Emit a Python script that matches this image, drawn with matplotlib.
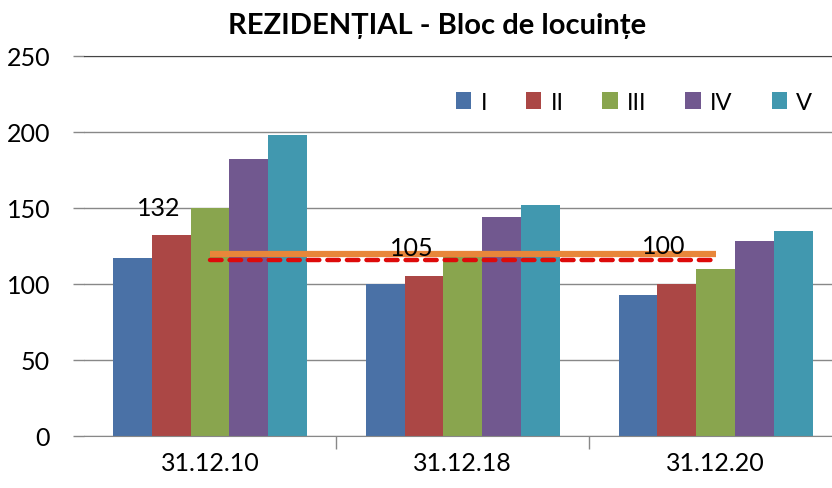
import matplotlib
matplotlib.use("Agg")
import matplotlib.pyplot as plt
import numpy as np

categories = ["31.12.10", "31.12.18", "31.12.20"]
series_names = ["I", "II", "III", "IV", "V"]
values_I = [117, 100, 93]
values_II = [132, 105, 100]
values_III = [150, 122, 110]
values_IV = [182, 144, 128]
values_V = [198, 152, 135]
line_orange = [120, 120, 120]
line_red = [116, 116, 116]
label_texts = ["132", "105", "100"]
label_y = [150, 124, 125.5]
yticks = [0, 50, 100, 150, 200, 250]
title = "REZIDENȚIAL - Bloc de locuințe"

colors = ["#4a71a6", "#ab4745", "#89a54e", "#71588f", "#4198af"]

plt.rcParams['font.family'] = ['Lato', 'DejaVu Sans']

fig = plt.figure(figsize=(8.32, 4.89), dpi=100)
ax = fig.add_axes([83.5 / 832, (489 - 437) / 489, (842 - 83.5) / 832, (437 - 57) / 489])

x = np.arange(len(categories))
bw = 0.1534
all_vals = [values_I, values_II, values_III, values_IV, values_V]
for i, (vals, c, name) in enumerate(zip(all_vals, colors, series_names)):
    ax.bar(x + (i - 2) * bw, vals, width=bw, color=c, label=name, zorder=2)

ax.plot(x, line_orange, color="#e8863a", lw=4.5, zorder=3, solid_capstyle="butt")
ax.plot(x, line_red, color="#dd0a0a", lw=3.2, zorder=4, dashes=(2.6, 1.8), dash_capstyle="round")

for xi, t, yv in zip(x, label_texts, label_y):
    ax.text(xi - bw * 1.0 - 0.05, yv, t, ha="center", va="center", fontsize=18, color="black", zorder=5)

ax.set_xlim(-0.5, 2.5)
ax.set_ylim(0, 250)
ax.set_yticks(yticks)
ax.set_xticks(x)
ax.set_xticklabels(categories)
ax.set_xticks([0.5, 1.5], minor=True)
ax.tick_params(axis="x", which="major", length=0, pad=11, labelsize=18)
ax.tick_params(axis="x", which="minor", length=9, color="#888888", width=1)
ax.tick_params(axis="y", length=8, color="#888888", width=1, pad=16, labelsize=18)

ax.grid(axis="y", color="#888888", lw=1, zorder=0)
ax.set_axisbelow(True)
for s in ["left", "right"]:
    ax.spines[s].set_visible(False)
ax.spines["top"].set_color("#444444")
ax.spines["bottom"].set_color("#888888")

fig.text(437 / 832, 1 - 26 / 489, title, ha="center", va="center", fontsize=21, fontweight="bold")

leg = ax.legend(loc="center", bbox_to_anchor=(634 / 832, 1 - 103 / 489), bbox_transform=fig.transFigure,
                ncol=5, frameon=False, fontsize=17, handlelength=0.64, handleheight=0.72,
                handletextpad=0.4, columnspacing=1.65)

fig.savefig("out.png", dpi=100)
